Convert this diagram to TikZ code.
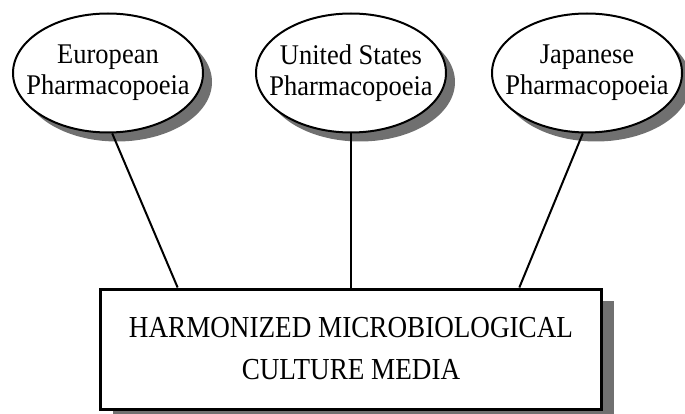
\documentclass[tikz,border=0pt]{standalone}
\usepackage{fontspec}
\setmainfont{Liberation Serif}
\newfontfamily\pharmafont[FakeStretch=0.93]{Liberation Serif}
\newfontfamily\mediafont[FakeStretch=0.89]{Liberation Serif}
\usetikzlibrary{shapes.geometric, shadows, positioning, calc}

\begin{document}
\begin{tikzpicture}[node distance=240pt,on grid,
    pharma/.style={ellipse,draw,line width=2pt,fill=white,
      inner xsep=-16pt,inner ysep=0pt,
      minimum width=190pt,minimum height=119pt,align=center,
      font=\pharmafont\fontsize{28.5}{31}\selectfont,
      drop shadow={shadow xshift=9pt,shadow yshift=-9pt,fill=black!56,opacity=1}},
    media/.style={rectangle,draw,line width=3pt,fill=white,
      minimum width=501pt,minimum height=120pt,align=center,
      font=\mediafont\fontsize{30.5}{42}\selectfont,
      drop shadow={shadow xshift=12pt,shadow yshift=-12pt,fill=black!56,opacity=1}}]
  \useasboundingbox (0,0) rectangle (685pt,-414pt);
  \node[pharma] (ep) at (108pt,-73pt) {European\\Pharmacopoeia};
  \node[pharma] (usp) [right=243pt of ep] {United States\\Pharmacopoeia};
  \node[pharma] (jp) [right=236pt of usp] {Japanese\\Pharmacopoeia};
  \node[media] (hmcm) [below=276pt of usp] {HARMONIZED MICROBIOLOGICAL\\CULTURE MEDIA};
  \path[draw,line width=2pt]
  (ep.-86) edge ($(hmcm.north west)!0.156!(hmcm.north east)$)
  (usp.south) edge (usp.south |- hmcm.north)
  (jp.-94) edge ($(hmcm.north west)!0.834!(hmcm.north east)$);
\end{tikzpicture}
\end{document}
